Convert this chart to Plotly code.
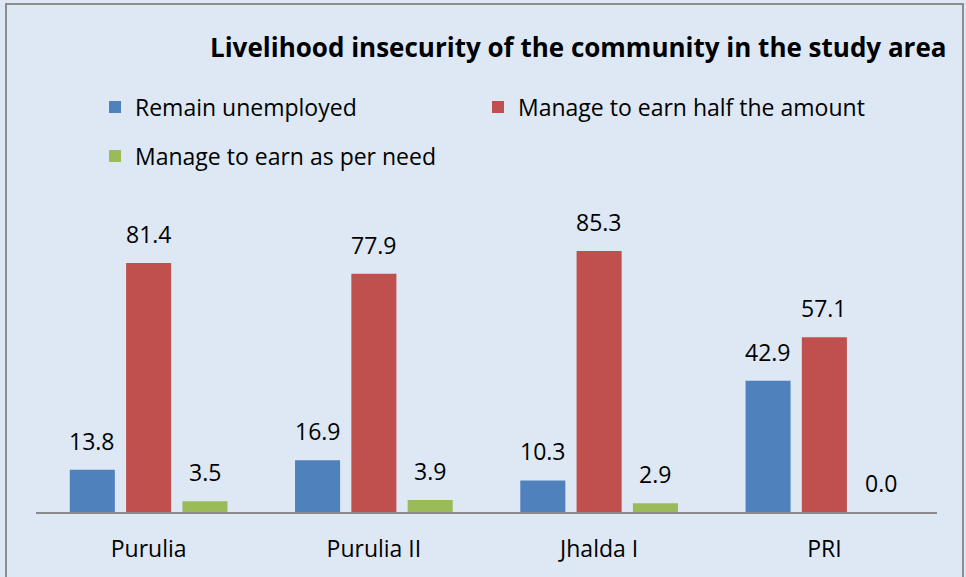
import plotly.graph_objects as go

# Survey blocks and share of households (%) in each livelihood situation
blocks = ["Purulia", "Purulia II", "Jhalda I", "PRI"]
remain_unemployed = [13.8, 16.9, 10.3, 42.9]
earn_half_amount = [81.4, 77.9, 85.3, 57.1]
earn_as_per_need = [3.5, 3.9, 2.9, 0.0]

W, H = 966, 577
ML, MR, MT, MB = 36, 29, 206, 65
plot_w = W - ML - MR
ph = H - MT - MB
slot_px = plot_w / len(blocks)
FONT = "Open Sans, Lato, sans-serif"

# name, values, colour, legend id, legend anchor (px from left, px from top)
series = [
    ("Remain unemployed", remain_unemployed, "#4f81bd", "legend", (95, 107)),
    ("Manage to earn half the amount", earn_half_amount, "#c0504d", "legend2", (478, 107)),
    ("Manage to earn as per need", earn_as_per_need, "#9bbb59", "legend3", (95, 156)),
]

fig = go.Figure()
annotations = []
legends = {}
for i, (name, vals, color, leg, (lx, ly)) in enumerate(series):
    fig.add_trace(go.Bar(
        name=name, x=blocks, y=vals, marker=dict(color=color, line=dict(width=0)),
        legend=leg,
    ))
    legends[leg] = dict(
        orientation="h", x=(lx - ML) / plot_w, y=1 + (MT - ly) / ph,
        xanchor="left", yanchor="middle",
        bgcolor="rgba(0,0,0,0)", font=dict(size=23),
    )
    # value labels above each bar
    for cat, v in zip(blocks, vals):
        annotations.append(dict(
            x=cat, y=v, xref="x", yref="y", text=f"{v:.1f}",
            showarrow=False, yanchor="bottom", xanchor="center",
            xshift=(i - 1) * 0.25 * slot_px, yshift=11,
            font=dict(size=23, color="#000000", family=FONT),
        ))

annotations.append(dict(
    text="<b>Livelihood insecurity of the community in the study area</b>",
    xref="paper", yref="paper",
    x=(578 - ML) / plot_w, y=1 + (MT - 47) / ph,
    xanchor="center", yanchor="middle", showarrow=False,
    font=dict(size=26, color="#000000", family=FONT),
))

fig.update_layout(
    width=W, height=H,
    margin=dict(l=ML, r=MR, t=MT, b=MB),
    paper_bgcolor="#dde8f4", plot_bgcolor="rgba(0,0,0,0)",
    barmode="group", bargap=0.25, bargroupgap=0.2,
    font=dict(family=FONT, size=23, color="#000000"),
    showlegend=True,
    xaxis=dict(
        showgrid=False, zeroline=False, showline=True, linecolor="#8a8a8a",
        linewidth=1.5, ticks="", tickfont=dict(size=23), ticklabelstandoff=16,
    ),
    yaxis=dict(range=[0, 100], visible=False, showgrid=False),
    annotations=annotations,
    shapes=[dict(
        type="rect", xref="paper", yref="paper",
        x0=(6 - ML) / plot_w, x1=(963 - ML) / plot_w,
        y0=1 + (MT - 4) / ph, y1=-(MB + 20) / ph,
        line=dict(color="#8c8c8c", width=2), fillcolor="rgba(0,0,0,0)",
        layer="below",
    )],
    **legends,
)

fig.write_html("out.html")
